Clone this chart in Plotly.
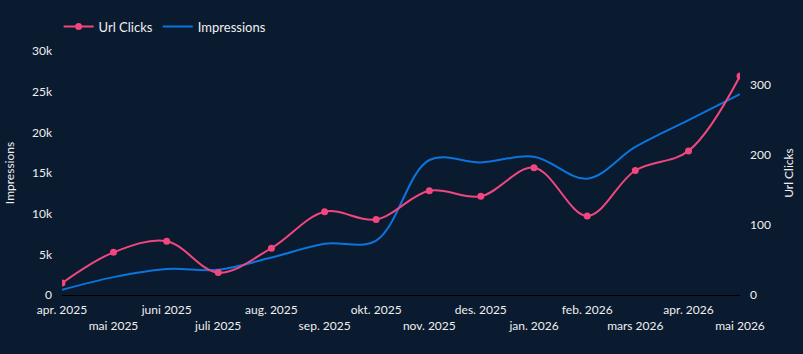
import plotly.graph_objects as go

months = ["2025-04-01", "2025-05-01", "2025-06-01", "2025-07-01", "2025-08-01",
          "2025-09-01", "2025-10-01", "2025-11-01", "2025-12-01", "2026-01-01",
          "2026-02-01", "2026-03-01", "2026-04-01", "2026-05-01"]
tick_labels = ["apr. 2025", "mai 2025", "juni 2025", "juli 2025", "aug. 2025",
               "sep. 2025", "okt. 2025", "nov. 2025", "des. 2025", "jan. 2026",
               "feb. 2026", "mars 2026", "apr. 2026", "mai 2026"]
url_clicks = [17, 61, 77, 32, 67, 119, 108, 149, 141, 182, 113, 178, 206, 313]
impressions = [640, 2200, 3200, 3100, 4600, 6300, 6700, 16600, 16300, 17000,
               14300, 18200, 21500, 24700]

BG = "#0a1a2f"
PINK = "#f2467f"
BLUE = "#0b74de"
TXT = "#f0f0f0"
FONT = "Lato"

ticktext = [t if i % 2 == 0 else "<br>" + t for i, t in enumerate(tick_labels)]

fig = go.Figure()
fig.add_trace(go.Scatter(
    x=months, y=url_clicks, name="Url Clicks", mode="lines+markers",
    line=dict(color=PINK, width=2, shape="spline"),
    marker=dict(color=PINK, size=7), yaxis="y2"))
fig.add_trace(go.Scatter(
    x=months, y=impressions, name="Impressions", mode="lines",
    line=dict(color=BLUE, width=2, shape="spline"), yaxis="y"))

fig.update_layout(
    width=803, height=354,
    margin=dict(l=62, r=63, t=45, b=59),
    paper_bgcolor=BG, plot_bgcolor=BG,
    font=dict(family=FONT, size=12, color=TXT),
    showlegend=True,
    legend=dict(orientation="h", x=-0.005, xanchor="left", y=1.1, yanchor="middle",
                font=dict(size=13, color=TXT), bgcolor="rgba(0,0,0,0)"),
    xaxis=dict(type="date", range=[months[0], months[-1]],
               tickmode="array", tickvals=months, ticktext=ticktext,
               tickangle=0, automargin=False, ticklabelstandoff=4,
               showgrid=False, zeroline=False, showline=True,
               linecolor="#000000", linewidth=1, ticks="",
               tickfont=dict(size=12, color=TXT)),
    yaxis=dict(title=dict(text="Impressions", font=dict(size=12, color=TXT), standoff=14),
               range=[0, 30000], tickvals=[0, 5000, 10000, 15000, 20000, 25000, 30000],
               ticktext=["0", "5k", "10k", "15k", "20k", "25k", "30k"],
               automargin=False, ticklabelstandoff=9,
               showgrid=False, zeroline=False, showline=False,
               tickfont=dict(size=12, color=TXT)),
    yaxis2=dict(title=dict(text="Url Clicks", font=dict(size=12, color=TXT), standoff=14),
                range=[0, 348.8], tickvals=[0, 100, 200, 300],
                overlaying="y", side="right", automargin=False, ticklabelstandoff=9,
                showgrid=False, zeroline=False, showline=False,
                tickfont=dict(size=12, color=TXT)),
)

fig.write_html("out.html")
